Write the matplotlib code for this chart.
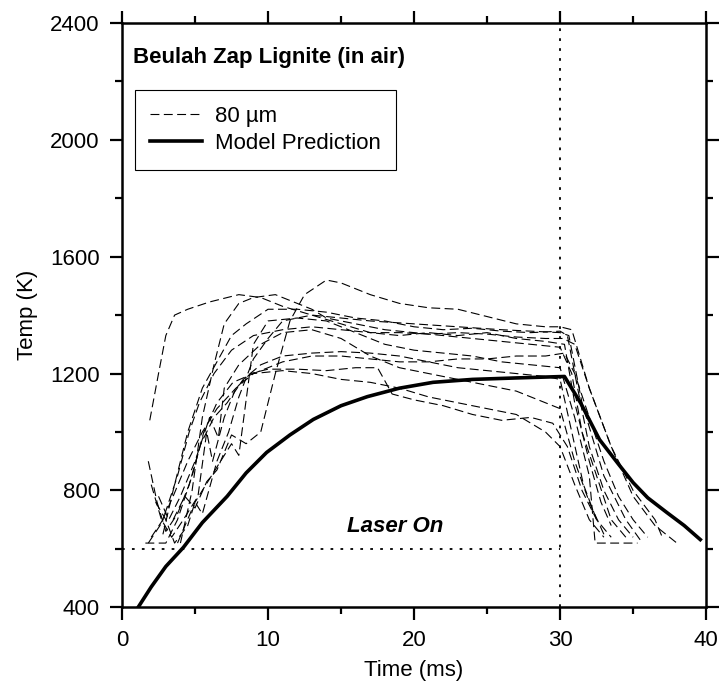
import matplotlib
matplotlib.use("Agg")
import matplotlib.pyplot as plt
from matplotlib.ticker import MultipleLocator

plt.rcParams["font.family"] = ["Liberation Sans", "DejaVu Sans"]

# model prediction
model_t = [1.1, 2.0, 3.0, 4.2, 5.5, 7.2, 8.5, 9.9, 11.5, 13.1, 15.0, 16.8, 19.0,
           21.3, 24.0, 27.0, 30.3, 31.4, 32.7, 34.0, 35.0, 36.0, 37.3, 38.5, 39.6]
model_T = [400, 470, 540, 605, 690, 780, 860, 930, 990, 1043, 1090, 1121, 1150,
           1170, 1180, 1185, 1190, 1100, 974, 890, 827, 775, 725, 680, 632]

# measured traces (80 um particles)
t1 = [1.9, 2.5, 3.0, 3.6, 4.5, 6.0, 8.0, 9.5, 11, 13, 15, 17, 20, 23, 26, 28, 30, 30.6, 31.5, 33, 34.5, 35.5]
T1 = [1040, 1200, 1330, 1400, 1420, 1445, 1470, 1460, 1430, 1400, 1390, 1380, 1370, 1360, 1350, 1345, 1340, 1330, 1100, 850, 700, 630]
t2 = [3.5, 4.3, 5.0, 5.8, 6.5, 7.5, 8.5, 9.5, 10.5, 11.5, 12.5, 14, 15, 17, 19, 21, 23, 25, 27, 29, 30, 30.8, 32, 33.5, 35, 36.5, 37]
T2 = [700, 780, 740, 830, 870, 990, 960, 1000, 1200, 1380, 1470, 1520, 1510, 1470, 1440, 1425, 1420, 1395, 1370, 1360, 1360, 1350, 1150, 950, 800, 700, 640]
t3 = [2.8, 3.5, 4.5, 5.5, 6.5, 7.5, 8.5, 10, 12, 14, 16, 18, 20, 22, 24, 26, 28, 30, 30.5, 31.2, 32, 33, 34, 35]
T3 = [650, 800, 1000, 1150, 1240, 1330, 1370, 1420, 1420, 1410, 1390, 1380, 1360, 1350, 1355, 1345, 1340, 1345, 1330, 1150, 950, 800, 700, 640]
t4 = [4.0, 4.8, 5.5, 6.3, 7.0, 8.0, 9.0, 10.5, 12, 13, 14, 16, 18, 20, 22, 24, 26, 28, 30, 30.8, 31.5, 32.5, 33.5, 34.5]
T4 = [620, 800, 1050, 1230, 1370, 1440, 1460, 1470, 1440, 1420, 1390, 1370, 1350, 1340, 1330, 1320, 1310, 1300, 1290, 1200, 1000, 850, 700, 640]
t5 = [2.3, 3.0, 3.6, 4.5, 5.0, 5.5, 6.5, 7.3, 8.0, 9.0, 10, 11, 13, 15, 17, 19, 21, 23, 25, 27, 29, 30.3, 31, 32, 32.8, 33.5]
T5 = [760, 700, 620, 680, 760, 720, 900, 1000, 1120, 1250, 1320, 1380, 1400, 1370, 1340, 1330, 1340, 1330, 1340, 1320, 1310, 1300, 1100, 900, 760, 680]
t6 = [1.8, 2.4, 3.0, 3.8, 4.6, 5.4, 6.3, 7.2, 8.3, 9.5, 11, 13, 15, 17, 19, 21, 23, 25, 27, 29, 30, 30.8, 31.6, 32.5]
T6 = [900, 760, 660, 720, 820, 960, 1050, 1100, 1180, 1230, 1260, 1270, 1275, 1270, 1260, 1240, 1220, 1210, 1200, 1190, 1180, 1000, 820, 700]
t7 = [2.0, 2.7, 3.4, 4.2, 5.2, 5.8, 6.2, 7.0, 7.8, 8.8, 10, 12, 14, 16, 17.5, 18.5, 20, 22, 24, 26, 28, 29.5, 30.5, 31.5, 32.5, 33.5]
T7 = [820, 700, 640, 700, 780, 1000, 900, 1050, 1150, 1200, 1215, 1215, 1210, 1220, 1220, 1130, 1110, 1090, 1060, 1040, 1050, 1030, 950, 800, 700, 640]
t8 = [3.8, 5.0, 6.5, 7.5, 8.0, 9.0, 10, 12, 14, 16, 18, 20, 22, 24, 26, 28, 30, 31, 32, 32.4, 35.3]
T8 = [620, 760, 880, 960, 920, 1300, 1380, 1390, 1380, 1340, 1300, 1280, 1270, 1260, 1240, 1230, 1220, 1050, 850, 620, 620]
t9 = [2.5, 3.2, 4.0, 5.0, 6.0, 6.6, 7.0, 8.0, 9.5, 11, 13, 15, 17, 19, 21, 23, 25, 27, 29, 30, 31, 32, 33]
T9 = [780, 700, 780, 900, 1050, 980, 1150, 1230, 1300, 1340, 1350, 1320, 1260, 1220, 1200, 1180, 1160, 1140, 1100, 1080, 900, 760, 650]
t10 = [1.6, 3.0, 3.8, 4.8, 5.6, 6.5, 7.6, 9, 11, 13, 15, 17, 19, 21, 23, 25, 27, 29, 30, 31, 32, 33]
T10 = [620, 620, 700, 850, 1000, 1100, 1170, 1200, 1210, 1200, 1180, 1170, 1150, 1120, 1100, 1080, 1060, 1000, 950, 820, 700, 640]
t11 = [2.0, 2.8, 3.8, 4.6, 5.3, 6.3, 7.5, 9, 11, 13, 15, 17, 19, 21, 23, 25, 27, 29, 30.2, 31, 32, 33.5, 35, 36.5, 38]
T11 = [640, 700, 850, 1000, 1100, 1200, 1280, 1330, 1350, 1360, 1350, 1340, 1340, 1335, 1340, 1335, 1325, 1320, 1320, 1300, 1150, 950, 780, 680, 620]
t12 = [1.8, 2.6, 3.5, 4.5, 5.5, 6.5, 7.8, 9, 11, 13, 15, 17, 19, 21, 23, 25, 27, 29, 30.3, 31, 32, 33, 34, 35, 36]
T12 = [620, 680, 780, 900, 1000, 1080, 1150, 1200, 1240, 1260, 1260, 1250, 1240, 1240, 1250, 1250, 1260, 1260, 1270, 1200, 1050, 900, 780, 700, 640]

traces = [(t1, T1), (t2, T2), (t3, T3), (t4, T4), (t5, T5), (t6, T6),
          (t7, T7), (t8, T8), (t9, T9), (t10, T10), (t11, T11), (t12, T12)]

fig = plt.figure(figsize=(7.22, 6.91), dpi=100)
ax = fig.add_axes([0.169, 0.121, 0.809, 0.846])

for i, (t, T) in enumerate(traces):
    ax.plot(t, T, color="black", lw=0.8, dashes=(8, 4),
            label="80 \u00b5m" if i == 0 else None)
ax.plot(model_t, model_T, color="black", lw=2.6, label="Model Prediction")

# laser on markers
ax.plot([0, 30], [600, 600], color="black", lw=1.3, ls=(0, (1.5, 4)))
ax.axvline(30, color="black", lw=1.3, ls=(0, (1.5, 4)))
ax.text(18.7, 677, "Laser On", fontsize=16, fontweight="bold", fontstyle="italic",
        ha="center", va="center")

ax.text(0.019, 0.94, "Beulah Zap Lignite (in air)", transform=ax.transAxes,
        fontsize=16, fontweight="bold", ha="left", va="center")

leg = ax.legend(loc="upper left", bbox_to_anchor=(0.022, 0.885), fontsize=16,
                frameon=True, fancybox=False, edgecolor="black", framealpha=1,
                handlelength=2.3, handletextpad=0.6, borderpad=0.7,
                labelspacing=0.3, borderaxespad=0)
leg.get_frame().set_linewidth(0.8)

ax.set_xlim(0, 40)
ax.set_ylim(400, 2400)
ax.xaxis.set_major_locator(MultipleLocator(10))
ax.xaxis.set_minor_locator(MultipleLocator(5))
ax.yaxis.set_major_locator(MultipleLocator(400))
ax.yaxis.set_minor_locator(MultipleLocator(200))
ax.tick_params(which="both", direction="out", top=True, right=True,
               labelsize=16, width=1.6)
ax.tick_params(which="major", length=9, pad=7)
ax.tick_params(which="minor", length=5)
for s in ax.spines.values():
    s.set_linewidth(1.8)

ax.set_xlabel("Time (ms)", fontsize=16, labelpad=7)
ax.set_ylabel("Temp (K)", fontsize=16, labelpad=9)

fig.savefig("out.png", dpi=100)
